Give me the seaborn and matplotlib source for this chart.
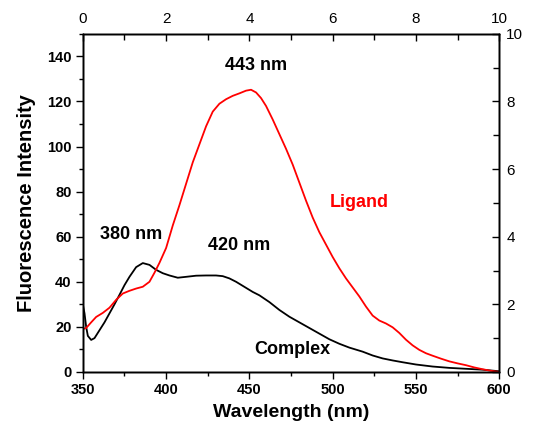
import matplotlib
matplotlib.use("Agg")
import matplotlib.pyplot as plt
from matplotlib.ticker import MultipleLocator
import pandas as pd
import seaborn as sns

# ligand emission spectrum
ligand_wl = [350, 352, 355, 358, 362, 366, 370, 374, 378, 382, 386, 390, 393, 396,
             400, 404, 408, 412, 416, 420, 424, 428, 432, 436, 440, 444, 448, 451,
             454, 457, 460, 464, 468, 472, 476, 480, 484, 488, 492, 496, 500, 504,
             508, 512, 516, 520, 524, 528, 532, 536, 540, 544, 548, 552, 556, 560,
             565, 570, 575, 580, 585, 590, 595, 600]
ligand_int = [19, 19.5, 22, 24.4, 26.2, 28.5, 32, 34.8, 36, 37, 37.8, 40, 44, 48.4,
              55, 65, 74, 83.5, 93, 101, 109, 115.5, 119, 121, 122.5, 123.6, 124.8, 125.2,
              124, 121.5, 118, 112, 105.5, 99, 92, 84, 76, 68.5, 62, 56.5, 51, 46,
              41.5, 37.5, 33.5, 29, 25, 22.8, 21.5, 19.8, 17.3, 14.3, 11.8, 9.8, 8.3, 7.2,
              5.9, 4.7, 3.8, 3, 2, 1.2, 0.5, 0]

# complex emission spectrum
complex_wl = [350, 351, 352, 353, 355, 357, 360, 363, 366, 369, 372, 375, 378, 382,
              386, 390, 394, 398, 402, 407, 412, 418, 424, 430, 434, 438, 442, 448,
              452, 456, 462, 468, 474, 480, 486, 492, 498, 504, 510, 518, 524, 530,
              536, 542, 550, 560, 570, 580, 590, 600]
complex_int = [30, 26, 20, 16, 14.2, 15, 18.5, 22, 26, 30, 34.2, 38.5, 42.2, 46.5,
               48.3, 47.5, 45.3, 43.8, 42.8, 41.8, 42.2, 42.7, 42.8, 42.8, 42.5, 41.5, 40, 37.3,
               35.5, 34, 31, 27.5, 24.5, 22, 19.5, 17, 14.5, 12.5, 10.8, 9, 7.3, 6,
               5.1, 4.3, 3.3, 2.4, 1.8, 1.4, 1, 0.3]

x_ticks = [350, 400, 450, 500, 550, 600]
y_ticks = [0, 20, 40, 60, 80, 100, 120, 140]
aux_ticks = [0, 2, 4, 6, 8, 10]

sns.set_style("ticks")
plt.rcParams['font.family'] = ['Liberation Sans', 'DejaVu Sans']
plt.rcParams['text.color'] = 'black'
plt.rcParams['axes.labelcolor'] = 'black'
plt.rcParams['xtick.color'] = 'black'
plt.rcParams['ytick.color'] = 'black'

df = pd.concat([
    pd.DataFrame({'wl': complex_wl, 'intensity': complex_int, 'sample': 'Complex'}),
    pd.DataFrame({'wl': ligand_wl, 'intensity': ligand_int, 'sample': 'Ligand'}),
])

fig = plt.figure(figsize=(5.45, 4.34), dpi=100)
ax = fig.add_axes([0.152, 0.143, 0.764, 0.779])

sns.lineplot(data=df, x='wl', y='intensity', hue='sample',
             hue_order=['Complex', 'Ligand'],
             palette={'Ligand': '#ff0000', 'Complex': 'black'},
             linewidth=1.3, legend=False, estimator=None, sort=False, ax=ax)

ax.set_xlim(350, 600)
ax.set_ylim(0, 150)
ax.set_xticks(x_ticks, labels=[str(t) for t in x_ticks], fontweight='bold', fontsize=10.5)
ax.set_yticks(y_ticks, labels=[str(t) for t in y_ticks], fontweight='bold', fontsize=10.5)
ax.xaxis.set_minor_locator(MultipleLocator(25))
ax.yaxis.set_minor_locator(MultipleLocator(10))
ax.tick_params(which='major', direction='out', length=5, width=1, pad=3)
ax.tick_params(which='minor', direction='out', length=3, width=1)
ax.set_xlabel('Wavelength (nm)', fontsize=14, fontweight='bold', labelpad=5)
ax.set_ylabel('Fluorescence Intensity', fontsize=14.5, fontweight='bold', labelpad=8)

# secondary axes (top / right)
ax_top = ax.twiny()
ax_top.set_xlim(0, 10)
ax_top.set_xticks(aux_ticks, labels=[str(t) for t in aux_ticks], fontsize=11)
ax_top.xaxis.set_minor_locator(MultipleLocator(1))
ax_top.tick_params(which='major', direction='in', length=5, width=1, pad=6)
ax_top.tick_params(which='minor', direction='in', length=4, width=1)

ax_right = ax.twinx()
ax_right.set_ylim(0, 10)
ax_right.set_yticks(aux_ticks, labels=[str(t) for t in aux_ticks], fontsize=11)
ax_right.yaxis.set_minor_locator(MultipleLocator(1))
ax_right.tick_params(which='major', direction='in', length=5, width=1, pad=5)
ax_right.tick_params(which='minor', direction='in', length=4, width=1)

for a in (ax, ax_top, ax_right):
    for s in a.spines.values():
        s.set_linewidth(1.0)
        s.set_color('black')

# peak annotations
ax.text(454, 136, '443 nm', ha='center', va='center', fontsize=13, fontweight='bold')
ax.text(379, 61, '380 nm', ha='center', va='center', fontsize=13, fontweight='bold')
ax.text(444, 56, '420 nm', ha='center', va='center', fontsize=13, fontweight='bold')
ax.text(476, 10, 'Complex', ha='center', va='center', fontsize=13, fontweight='bold')
ax.text(516, 75, 'Ligand', ha='center', va='center', fontsize=13, fontweight='bold',
        color='#ff0000')

fig.savefig('out.png', dpi=100)
